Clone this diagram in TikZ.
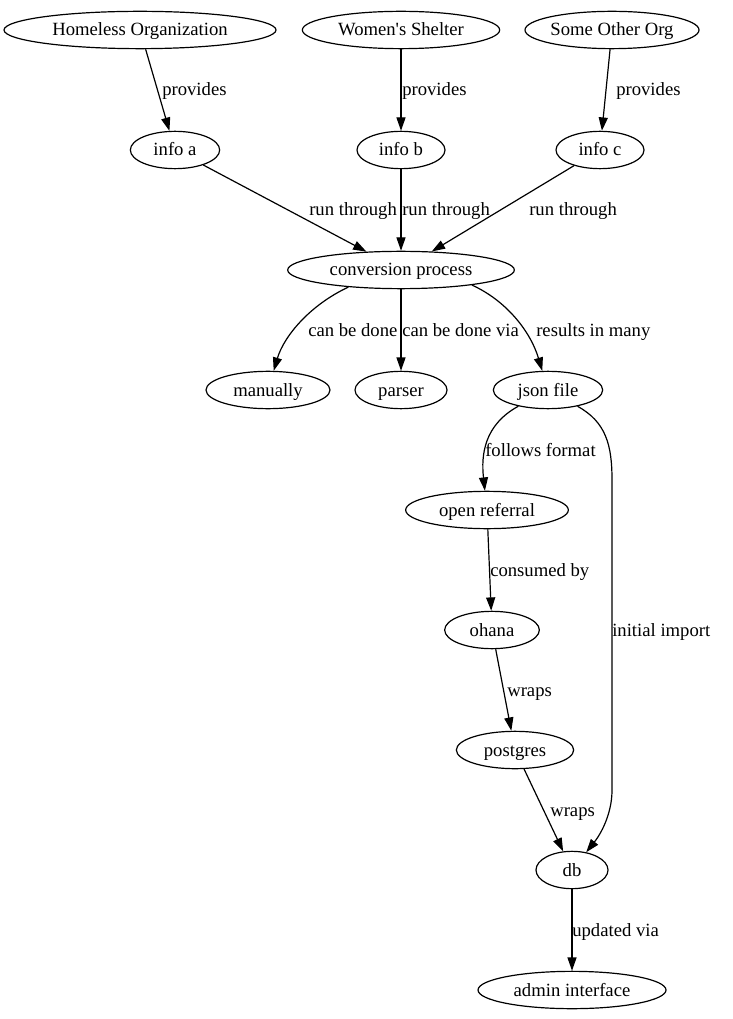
\documentclass[tikz,border=0pt]{standalone}
\usepackage{fontspec}
\setmainfont{Liberation Serif}
\usetikzlibrary{arrows.meta,shapes.geometric}
\begin{document}
\begin{tikzpicture}[x=0.75pt,y=-0.75pt,
  gnode/.style={draw,ellipse,line width=0.9pt,minimum height=28pt,inner sep=0pt,text height=9.5pt,text depth=0.5pt,font=\fontsize{14}{16}\selectfont},
  elabel/.style={anchor=west,inner sep=0pt,text height=9.5pt,text depth=0.5pt,font=\fontsize{14}{16}\selectfont},
  edge/.style={line width=0.9pt,-{Triangle[length=10pt,width=6.8pt]}}]
\useasboundingbox (0,0) rectangle (732,1019);
\node[gnode,minimum width=204pt] (ho) at (140,30) {Homeless Organization};
\node[gnode,minimum width=148pt] (ws) at (401,30) {Women\textquotesingle s Shelter};
\node[gnode,minimum width=128pt] (so) at (612,30) {Some Other Org};
\node[gnode,minimum width=67pt] (ia) at (175,150) {info a};
\node[gnode,minimum width=66pt] (ib) at (401,150) {info b};
\node[gnode,minimum width=66pt] (ic) at (600,150) {info c};
\node[gnode,minimum width=170pt] (cp) at (401,270) {conversion process};
\node[gnode,minimum width=93pt] (ma) at (268,390) {manually};
\node[gnode,minimum width=69pt] (pa) at (401,390) {parser};
\node[gnode,minimum width=82pt] (js) at (548,390) {json file};
\node[gnode,minimum width=122pt] (or) at (487,510) {open referral};
\node[gnode,minimum width=71pt] (oh) at (492,630) {ohana};
\node[gnode,minimum width=88pt] (pg) at (515,750) {postgres};
\node[gnode,minimum width=54pt] (db) at (572,870) {db};
\node[gnode,minimum width=141pt] (ad) at (572,990) {admin interface};

\draw[edge] (ho) -- (ia);
\draw[edge] (ws) -- (ib);
\draw[edge] (so) -- (ic);
\draw[edge] (ia) -- (cp);
\draw[edge] (ib) -- (cp);
\draw[edge] (ic) -- (cp);
\draw[edge] (cp.198) .. controls (310,305) and (284,336) .. (ma);
\draw[edge] (cp) -- (pa);
\draw[edge] (cp.-12) .. controls (505,300) and (530,330) .. (js);
\draw[edge] (js) .. controls (484,425) and (481,455) .. (or);
\draw[edge] (js) .. controls (606,422) and (612,445) .. (612,480) -- (612,790) .. controls (612,815) and (600,835) .. (db);
\draw[edge] (or) -- (oh);
\draw[edge] (oh) -- (pg);
\draw[edge] (pg) -- (db);
\draw[edge] (db) -- (ad);

\node[elabel] (l1) at (162,90) {provides};
\node[elabel] (l2) at (402,90) {provides};
\node[elabel] (l3) at (616,90) {provides};
\node[elabel] (l4) at (309,210) {run through};
\node[elabel] (l5) at (402,210) {run through};
\node[elabel] (l6) at (529,210) {run through};
\node[elabel] (l7) at (308,330) {can be done};
\node[elabel] (l8) at (402,330) {can be done via};
\node[elabel] (l9) at (536,330) {results in many};
\node[elabel] (l10) at (485,450) {follows format};
\node[elabel] (l11) at (490,570) {consumed by};
\node[elabel] (l12) at (612,630) {initial import};
\node[elabel] (l13) at (507,690) {wraps};
\node[elabel] (l14) at (550,810) {wraps};
\node[elabel] (l15) at (572,930) {updated via};
\end{tikzpicture}
\end{document}
